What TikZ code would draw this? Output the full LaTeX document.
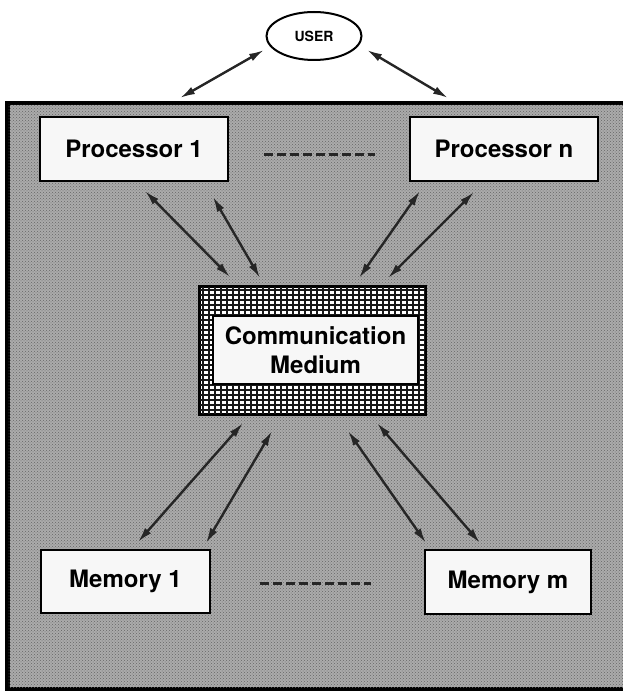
\documentclass[tikz,border=0pt]{standalone}
\usepackage{fontspec}
\setmainfont{TeX Gyre Heros}
\usetikzlibrary{arrows.meta,positioning,shapes.geometric,patterns}
\tikzset{
  panel/.style={rectangle,draw=black,line width=3pt,fill=black!33,inner sep=0pt},
  unitbox/.style={rectangle,draw=black,line width=2.6pt,fill=black!3,inner sep=0pt,font=\fontsize{24}{29}\selectfont\bfseries,align=center},
  userbox/.style={ellipse,draw=black,line width=2pt,fill=white,inner sep=0pt,minimum width=95pt,minimum height=48pt,font=\fontsize{14}{16}\selectfont\bfseries},
  meshbox/.style={rectangle,draw=black,line width=2.4pt,fill=white,inner sep=0pt,minimum width=225pt,minimum height=127pt},
  link/.style={{Latex[length=15pt,width=8pt]}-{Latex[length=15pt,width=8pt]},line width=2.4pt,draw=black!85},
  gap/.style={line width=3pt,dash pattern=on 9pt off 4pt,draw=black!85}
}

\begin{document}
\begin{tikzpicture}[x=1pt,y=-1pt]
  \useasboundingbox (0,0) rectangle (622,692);
  \fill[white] (0,0) rectangle (622,692);

  % outer frame
  \node[panel,minimum width=624pt,minimum height=584pt] (frame) at (320,396) {};
  \fill[pattern=crosshatch dots,pattern color=black!60] (frame.north west) rectangle (frame.south east);
  \draw[line width=3pt] (frame.north west) rectangle (frame.south east);

  \node[userbox] (user) at (314,36) {USER};
  \node[unitbox,minimum width=188pt,minimum height=64pt] (proc1) at (134,149) {Processor 1};
  \node[unitbox,minimum width=188pt,minimum height=64pt] (procn) at (504,149) {Processor n};

  % communication medium with its grid
  \node[meshbox] (comm) at (312.5,350.5) {};
  \begin{scope}
    \clip (comm.north west) rectangle (comm.south east);
    \foreach \x in {203,209,...,425}
      \draw[line width=1.1pt,black!90] (\x,287) -- (\x,414);
    \foreach \y in {290,295,...,414}
      \draw[line width=1.1pt,black!90] (200,\y) -- (425,\y);
  \end{scope}
  \draw[line width=2.4pt] (comm.north west) rectangle (comm.south east);
  \node[unitbox,minimum width=205pt,minimum height=68pt] (medium) at (315.5,350) {Communication\\Medium};

  \node[unitbox,minimum width=169pt,minimum height=63pt] (mem1) at (125.5,581.5) {Memory 1};
  \node[unitbox,minimum width=166pt,minimum height=64pt] (memm) at (508,582) {Memory m};

  % arrow ends
  \coordinate (u1) at (264,50);   \coordinate (f1) at (180,98);
  \coordinate (u2) at (367,50);   \coordinate (f2) at (448,98);
  \coordinate (p1a) at (145,191); \coordinate (c1a) at (230,277);
  \coordinate (p1b) at (213,197); \coordinate (c1b) at (260,278);
  \coordinate (pna) at (420,191); \coordinate (cna) at (359,278);
  \coordinate (pnb) at (474,192); \coordinate (cnb) at (388,278);
  \coordinate (c2a) at (243,423); \coordinate (m1a) at (138,542);
  \coordinate (c2b) at (272,431); \coordinate (m1b) at (206,543);
  \coordinate (c3a) at (348,431); \coordinate (mma) at (426,543);
  \coordinate (c3b) at (377,423); \coordinate (mmb) at (480,543);
  \coordinate (d1) at (264,155);  \coordinate (d2) at (375,155);
  \coordinate (d3) at (260,583);  \coordinate (d4) at (371,583);

  \draw[link] (u1) -- (f1);
  \draw[link] (u2) -- (f2);
  \draw[link] (p1a) -- (c1a);
  \draw[link] (p1b) -- (c1b);
  \draw[link] (pna) -- (cna);
  \draw[link] (pnb) -- (cnb);
  \draw[link] (c2a) -- (m1a);
  \draw[link] (c2b) -- (m1b);
  \draw[link] (c3a) -- (mma);
  \draw[link] (c3b) -- (mmb);

  \draw[gap] (d1) -- (d2);
  \draw[gap] (d3) -- (d4);
\end{tikzpicture}
\end{document}
